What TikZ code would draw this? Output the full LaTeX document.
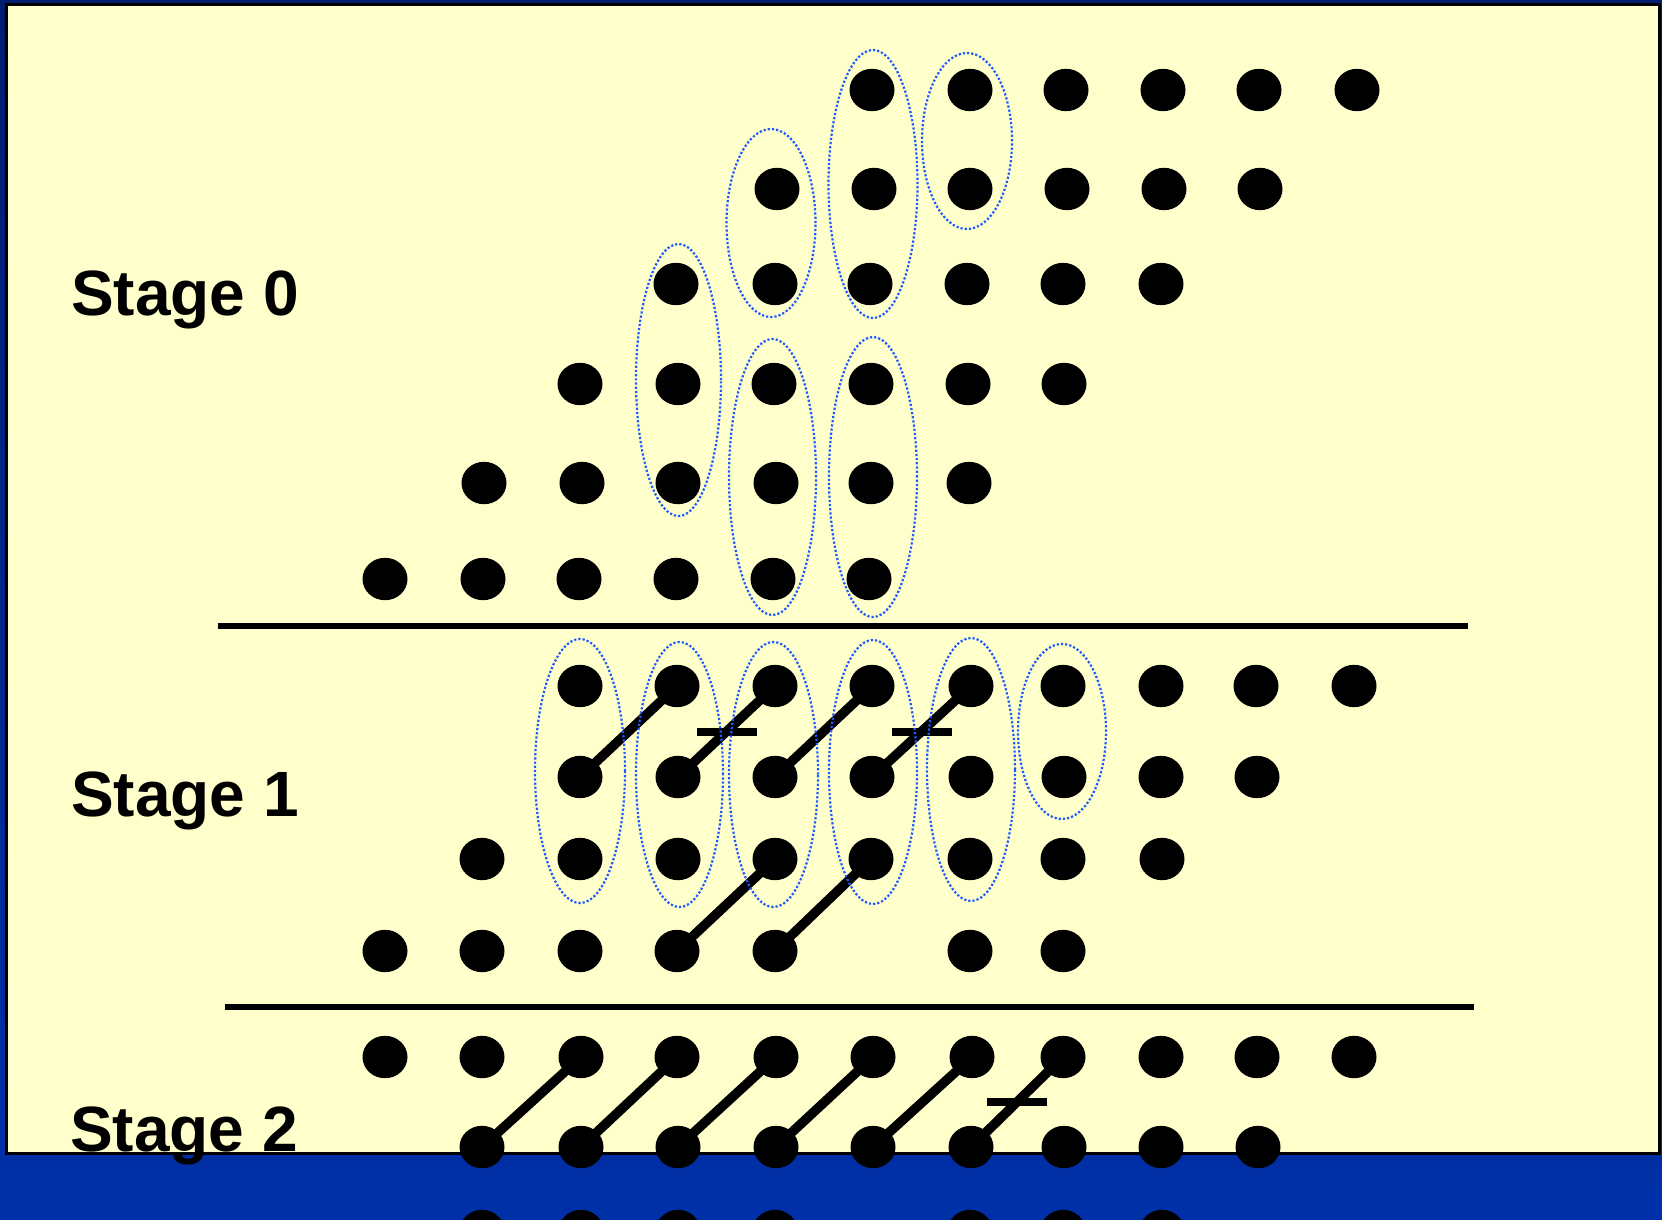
\documentclass[tikz,border=0pt]{standalone}
\usepackage{fontspec}
\setmainfont{Liberation Sans}
\usetikzlibrary{shapes.geometric,calc}
\definecolor{paper}{HTML}{FFFFCC}
\definecolor{navy}{HTML}{001C6E}
\definecolor{royal}{HTML}{0030A8}
\definecolor{grpblue}{HTML}{1E5AFF}
\pgfdeclarelayer{back}
\pgfdeclarelayer{links}
\pgfsetlayers{back,links,main}
\tikzset{
 dot/.style={ellipse, fill=black, minimum width=45pt, minimum height=42.4pt, inner sep=0pt},
 grp/.style={ellipse, draw=grpblue, line width=2.2pt, dash pattern=on 2.2pt off 2pt, inner sep=0pt},
 link/.style={line width=9.5pt, black},
 barmark/.style={rectangle, fill=black, minimum width=60pt, minimum height=8pt, inner sep=0pt},
 sepline/.style={line width=6pt, black},
 stagelabel/.style={anchor=base west, inner sep=0pt, font=\fontsize{64}{64}\selectfont\bfseries},
}
\begin{document}
\begin{tikzpicture}[x=1pt,y=-1pt]
\useasboundingbox (0,0) rectangle (1662,1220);
\clip (0,0) rectangle (1662,1220);
\begin{pgfonlayer}{back}
\shade[top color=navy, bottom color=royal] (0,0) rectangle (1662,1220);
\filldraw[fill=paper, draw=black, line width=3pt] (6,4.5) rectangle (1659,1153.5);
\end{pgfonlayer}

% Stage 0 dots
\foreach \c/\x in {5/872,6/970,7/1066,8/1163,9/1259,10/1357} \node[dot] (p1c\c) at (\x,90) {};
\foreach \c/\x in {4/777,5/874,6/970,7/1067,8/1164,9/1260} \node[dot] (p2c\c) at (\x,189) {};
\foreach \c/\x in {3/676,4/775,5/870,6/967,7/1063,8/1161} \node[dot] (p3c\c) at (\x,284) {};
\foreach \c/\x in {2/580,3/678,4/774,5/871,6/968,7/1064} \node[dot] (p4c\c) at (\x,384) {};
\foreach \c/\x in {1/484,2/582,3/678,4/776,5/871,6/969} \node[dot] (p5c\c) at (\x,483) {};
\foreach \c/\x in {0/385,1/483,2/579,3/676,4/773,5/869} \node[dot] (p6c\c) at (\x,579) {};

% Stage 1 dots
\foreach \c/\x in {2/580,3/677,4/775,5/872,6/971,7/1063,8/1161,9/1256,10/1354} \node[dot] (q1c\c) at (\x,686) {};
\foreach \c/\x in {2/580,3/678,4/775,5/872,6/971,7/1064,8/1161,9/1257} \node[dot] (q2c\c) at (\x,777) {};
\foreach \c/\x in {1/482,2/580,3/678,4/775,5/871,6/970,7/1063,8/1162} \node[dot] (q3c\c) at (\x,859) {};
\foreach \c/\x in {0/385,1/482,2/580,3/677,4/775,6/970,7/1063} \node[dot] (q4c\c) at (\x,951) {};

% Stage 2 dots
\foreach \c/\x in {0/385,1/482,2/581,3/677,4/776,5/873,6/972,7/1063,8/1161,9/1257,10/1354} \node[dot] (r1c\c) at (\x,1057) {};
\foreach \c/\x in {1/482,2/581,3/678,4/776,5/873,6/971,7/1064,8/1161,9/1258} \node[dot] (r2c\c) at (\x,1147) {};
\foreach \c/\x in {1/482,2/581,3/678,4/775,6/970,7/1063,8/1162} \node[dot] (r3c\c) at (\x,1231) {};

% connectors
\begin{pgfonlayer}{links}
\draw[link] (q2c2.center) -- (q1c3.center);
\draw[link] (q2c3.center) -- node[barmark] (x1) {} (q1c4.center);
\draw[link] (q2c4.center) -- (q1c5.center);
\draw[link] (q2c5.center) -- node[barmark] (x2) {} (q1c6.center);
\draw[link] (q4c3.center) -- (q3c4.center);
\draw[link] (q4c4.center) -- (q3c5.center);
\draw[link] (r2c1.center) -- (r1c2.center);
\draw[link] (r2c2.center) -- (r1c3.center);
\draw[link] (r2c3.center) -- (r1c4.center);
\draw[link] (r2c4.center) -- (r1c5.center);
\draw[link] (r2c5.center) -- (r1c6.center);
\draw[link] (r2c6.center) -- node[barmark] (x3) {} (r1c7.center);
\end{pgfonlayer}

% groups stage 0
\node[grp, minimum width=85pt, minimum height=272pt] (g01) at (678.5,380) {};
\node[grp, minimum width=89pt, minimum height=188pt] (g02) at (771,223) {};
\node[grp, minimum width=89pt, minimum height=268pt] (g03) at (873,184) {};
\node[grp, minimum width=90pt, minimum height=176pt] (g04) at (967,141) {};
\node[grp, minimum width=87pt, minimum height=276pt] (g05) at (772.5,477) {};
\node[grp, minimum width=88pt, minimum height=280pt] (g06) at (873,477) {};
% groups stage 1
\node[grp, minimum width=90pt, minimum height=264pt] (g11) at (580,771) {};
\node[grp, minimum width=87pt, minimum height=265pt] (g12) at (679.5,774.5) {};
\node[grp, minimum width=89pt, minimum height=265pt] (g13) at (773.5,774.5) {};
\node[grp, minimum width=88pt, minimum height=264pt] (g14) at (873,772) {};
\node[grp, minimum width=88pt, minimum height=263pt] (g15) at (971,769.5) {};
\node[grp, minimum width=88pt, minimum height=175pt] (g16) at (1062,731.5) {};

% separators
\draw[sepline] (218,625.5) -- (1468,625.5);
\draw[sepline] (225,1007) -- (1474,1007);

% labels
\node[stagelabel] (s0) at (71,315) {Stage 0};
\node[stagelabel] (s1) at (71,816) {Stage 1};
\node[stagelabel] (s2) at (70,1151) {Stage 2};
\end{tikzpicture}
\end{document}
